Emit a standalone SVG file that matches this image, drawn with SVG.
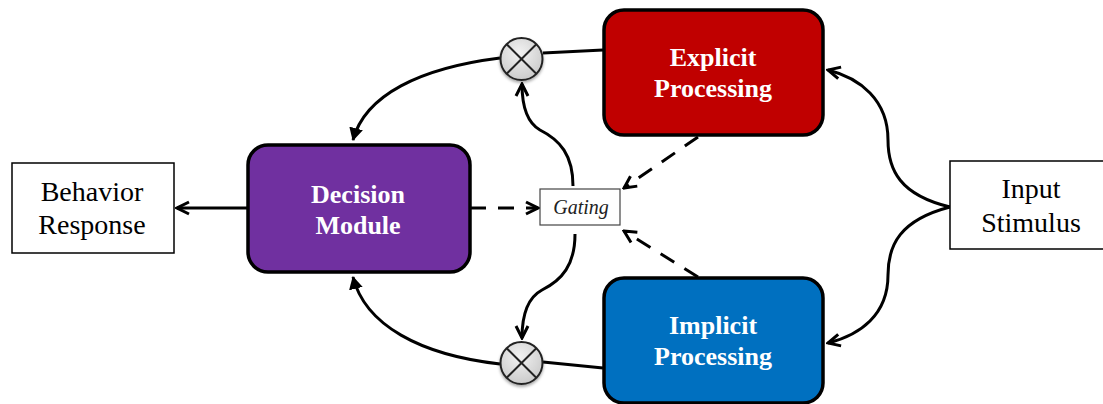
<svg xmlns="http://www.w3.org/2000/svg" width="1103" height="404" viewBox="0 0 1103 404">
<defs>
<style>
.box{stroke:#000;stroke-width:3.5}
.plain{fill:#fff;stroke:#000;stroke-width:1.5}
.t{font-family:"Liberation Serif",serif;font-size:28px;text-anchor:middle;fill:#000}
.b{font-family:"Liberation Serif",serif;font-size:26px;font-weight:bold;text-anchor:middle;fill:#fff}
.c{fill:none;stroke:#000;stroke-width:3}
.d{fill:none;stroke:#000;stroke-width:3;stroke-dasharray:16,12}
</style>
<marker id="open2" viewBox="0 0 16 16" refX="14" refY="8" markerWidth="16" markerHeight="16" markerUnits="userSpaceOnUse" orient="auto">
<path d="M2,2 L14,8 L2,14" fill="none" stroke="#000" stroke-width="3"/>
</marker>
<marker id="fill" viewBox="0 0 14 14" refX="12" refY="7" markerWidth="14" markerHeight="14" markerUnits="userSpaceOnUse" orient="auto">
<path d="M0,0 L13,7 L0,14 Z" fill="#000"/>
</marker>
<radialGradient id="g" cx="0.45" cy="0.35" r="0.7">
<stop offset="0" stop-color="#f2f2f2"/>
<stop offset="1" stop-color="#c8c8c8"/>
</radialGradient>
<filter id="sh" x="-30%" y="-30%" width="160%" height="160%">
<feDropShadow dx="0" dy="2" stdDeviation="1.5" flood-opacity="0.35"/>
</filter>
</defs>

<g id="connectors">
<path class="c" d="M603,50 L543,53"/>
<path class="c" d="M500,58 C420,68 365,95 353,140" marker-end="url(#fill)"/>
<path class="c" d="M603,368 L543,362"/>
<path class="c" d="M500,364 C420,355 365,325 353,277" marker-end="url(#fill)"/>
<path class="c" d="M573,186 C573,155 560,140 540,130 C526,122 522,105 522,84" marker-end="url(#open2)"/>
<path class="c" d="M575,234 C575,265 562,280 542,290 C527,298 522,318 522,338" marker-end="url(#open2)"/>
<path class="d" d="M470,208 L538,208" marker-end="url(#open2)"/>
<path class="d" d="M698,137 L624,188" marker-end="url(#open2)"/>
<path class="d" d="M698,277 L624,231" marker-end="url(#open2)"/>
<path class="c" d="M248,208 L177,208" marker-end="url(#open2)"/>
<path class="c" d="M950,207 C900,195 888,170 888,140 C888,100 860,78 828,70" marker-end="url(#open2)"/>
<path class="c" d="M950,207 C900,220 888,245 888,275 C888,315 860,335 828,343" marker-end="url(#open2)"/>
</g>

<g id="mult-top" filter="url(#sh)">
<circle cx="521.5" cy="59" r="21" fill="url(#g)" stroke="#222" stroke-width="2"/>
<path d="M506.7,44.2 L536.3,73.8 M536.3,44.2 L506.7,73.8" stroke="#222" stroke-width="2"/>
</g>
<g id="mult-bottom" filter="url(#sh)">
<circle cx="521.5" cy="363" r="21" fill="url(#g)" stroke="#222" stroke-width="2"/>
<path d="M506.7,348.2 L536.3,377.8 M536.3,348.2 L506.7,377.8" stroke="#222" stroke-width="2"/>
</g>

<g id="explicit">
<rect class="box" x="604" y="10" width="219" height="125" rx="20" fill="#C00000"/>
<text class="b" x="713" y="66">Explicit</text>
<text class="b" x="713" y="97">Processing</text>
</g>
<g id="implicit">
<rect class="box" x="604" y="278" width="219" height="125" rx="20" fill="#0070C0"/>
<text class="b" x="713" y="334">Implicit</text>
<text class="b" x="713" y="365">Processing</text>
</g>
<g id="decision">
<rect class="box" x="248" y="145" width="222" height="127" rx="20" fill="#7030A0"/>
<text class="b" x="358" y="203">Decision</text>
<text class="b" x="358" y="234">Module</text>
</g>
<g id="behavior">
<rect class="plain" x="12" y="163" width="162" height="90"/>
<text class="t" x="92" y="201">Behavior</text>
<text class="t" x="92" y="234">Response</text>
</g>
<g id="input">
<rect class="plain" x="950" y="161" width="160" height="88"/>
<text class="t" x="1031" y="198">Input</text>
<text class="t" x="1031" y="232">Stimulus</text>
</g>
<g id="gating">
<rect x="540" y="189" width="80" height="36" fill="#fff" stroke="#444" stroke-width="1.2"/>
<text x="581" y="214" font-family="Liberation Serif,serif" font-style="italic" font-size="20" text-anchor="middle" fill="#222">Gating</text>
</g>
</svg>
